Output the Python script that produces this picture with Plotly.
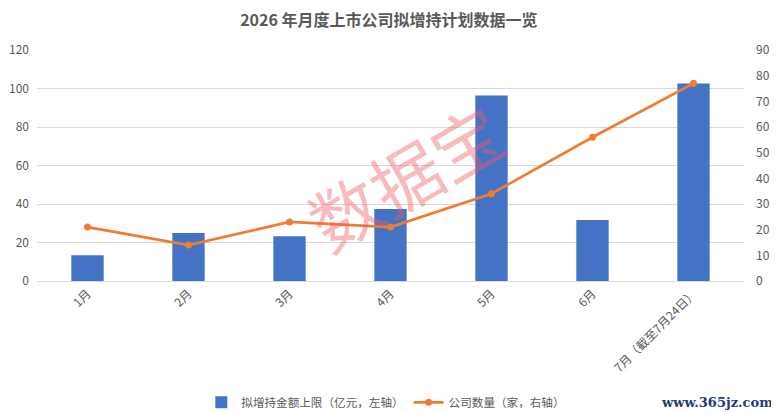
import plotly.graph_objects as go

months = ["1月", "2月", "3月", "4月", "5月", "6月", "7月（截至7月24日）"]
amount_cap = [13.4, 25.0, 23.3, 37.4, 96.3, 31.7, 102.6]   # 拟增持金额上限（亿元）
company_count = [21, 14, 23, 21, 34, 56, 77]               # 公司数量（家）
left_ticks = [0, 20, 40, 60, 80, 100, 120]
right_ticks = [0, 10, 20, 30, 40, 50, 60, 70, 80, 90]

FONT = "Noto Sans CJK SC, Microsoft YaHei, sans-serif"
GREY = "#595959"

fig = go.Figure()
fig.add_trace(go.Bar(
    x=months, y=amount_cap, name="拟增持金额上限（亿元，左轴）",
    marker=dict(color="#4472C4", line=dict(width=0)), yaxis="y",
))
fig.add_trace(go.Scatter(
    x=months, y=company_count, name="公司数量（家，右轴）",
    mode="lines+markers", line=dict(color="#ED7D31", width=2.8),
    marker=dict(color="#ED7D31", size=7), yaxis="y2",
))

fig.update_layout(
    width=771, height=404,
    margin=dict(l=29, r=35, t=42, b=131, autoexpand=False),
    paper_bgcolor="white", plot_bgcolor="white",
    font=dict(family=FONT, color=GREY, size=12),
    title=dict(text="<b>2026 年月度上市公司拟增持计划数据一览</b>",
               x=0.494, xanchor="center", y=0.97, yanchor="middle",
               font=dict(size=16, color=GREY)),
    bargap=0.68,
    xaxis=dict(tickangle=-45, showgrid=False, showline=True, automargin=False,
               linecolor="#D9D9D9", linewidth=1, ticks="",
               tickfont=dict(size=12, color=GREY)),
    yaxis=dict(range=[0, 120], tickvals=left_ticks, showgrid=True, automargin=False,
               gridcolor="#D9D9D9", gridwidth=1, zeroline=False,
               ticks="", tickfont=dict(size=12, color=GREY), ticklabelstandoff=7),
    yaxis2=dict(range=[0, 90], tickvals=right_ticks, overlaying="y", side="right",
                showgrid=False, zeroline=False, ticks="", automargin=False,
                tickfont=dict(size=12, color=GREY), ticklabelstandoff=11),
    legend=dict(orientation="h", x=0.49, xanchor="center", y=0.024, yanchor="middle",
                xref="container", yref="container",
                font=dict(size=11.6, color=GREY), itemwidth=30,
                bgcolor="rgba(0,0,0,0)"),
    annotations=[
        dict(text="数据宝", x=0.52, y=0.455, xref="paper", yref="paper",
             showarrow=False, textangle=-30,
             font=dict(size=70, color="rgba(240,90,100,0.42)", family=FONT)),
        dict(text="<b>www.365jz.com</b>", x=1.044, y=-0.528, xref="paper", yref="paper",
             xanchor="right", yanchor="middle", showarrow=False,
             font=dict(size=13, color="#1F3A7A", family="DejaVu Serif, serif")),
    ],
)

fig.write_html("out.html")
